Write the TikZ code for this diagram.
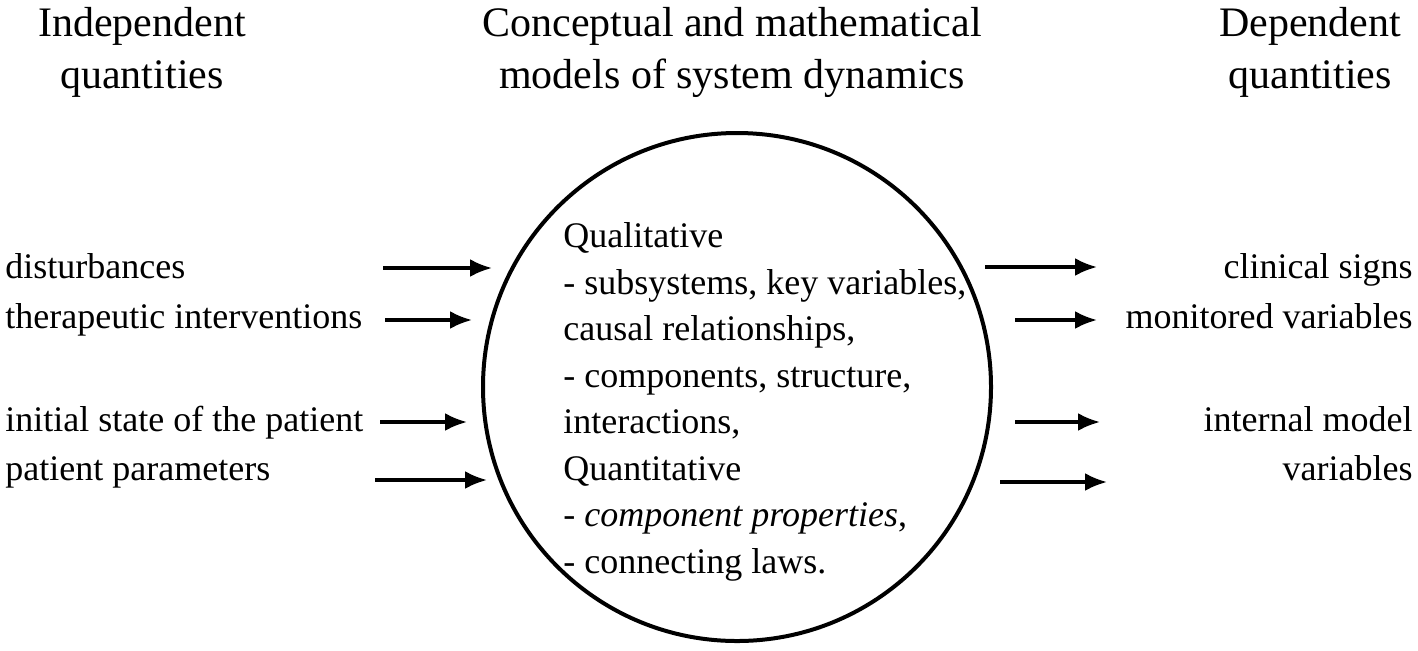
\documentclass[tikz,border=0pt]{standalone}
\usepackage{fontspec}
\setmainfont{Liberation Serif}
\usetikzlibrary{arrows.meta}
\begin{document}
\begin{tikzpicture}[x=0.5pt,y=-0.5pt,
  body/.style={font=\fontsize{18}{22}\selectfont, inner sep=0pt},
  ttl/.style={font=\fontsize{21}{26}\selectfont, align=center, inner sep=0pt},
  arr/.style={line width=1.6pt,-{Latex[length=11pt,width=9pt]}}]
\useasboundingbox (0,0) rectangle (1418,650);
\node[ttl] (t1) at (142,52) {Independent\\quantities};
\node[ttl] (t2) at (732,52) {Conceptual and mathematical\\models of system dynamics};
\node[ttl] (t3) at (1310,52) {Dependent\\quantities};
\node[draw, circle, line width=2pt, minimum size=254pt, inner sep=0pt] (c) at (737,387) {};
\foreach \t [count=\i] in {Qualitative,- subsystems\mbox{,} key variables\mbox{,},causal relationships\mbox{,},- components\mbox{,} structure\mbox{,},interactions\mbox{,},Quantitative,- \textit{component properties}\mbox{,},- connecting laws.}
  \node[body, anchor=base west] (q\i) at (563, 201+\i*46.5) {\t};
\node[body, anchor=base west] (l1) at (5,278) {disturbances};
\node[body, anchor=base west] (l2) at (5,328) {therapeutic interventions};
\node[body, anchor=base west] (l3) at (5,431) {initial state of the patient};
\node[body, anchor=base west] (l4) at (5,480) {patient parameters};
\node[body, anchor=base east] (r1) at (1413,278) {clinical signs};
\node[body, anchor=base east] (r2) at (1413,328) {monitored variables};
\node[body, anchor=base east] (r3) at (1413,431) {internal model};
\node[body, anchor=base east] (r4) at (1413,480) {variables};
\coordinate (a1) at (383,268); \coordinate (b1) at (492,268);
\coordinate (a2) at (385,320); \coordinate (b2) at (472,320);
\coordinate (a3) at (380,422); \coordinate (b3) at (467,422);
\coordinate (a4) at (375,480); \coordinate (b4) at (487,480);
\coordinate (a5) at (985,267); \coordinate (b5) at (1097,267);
\coordinate (a6) at (1015,320); \coordinate (b6) at (1097,320);
\coordinate (a7) at (1015,422); \coordinate (b7) at (1100,422);
\coordinate (a8) at (1000,482); \coordinate (b8) at (1107,482);
\foreach \i in {1,...,8} \draw[arr] (a\i) -- (b\i);
\end{tikzpicture}
\end{document}
